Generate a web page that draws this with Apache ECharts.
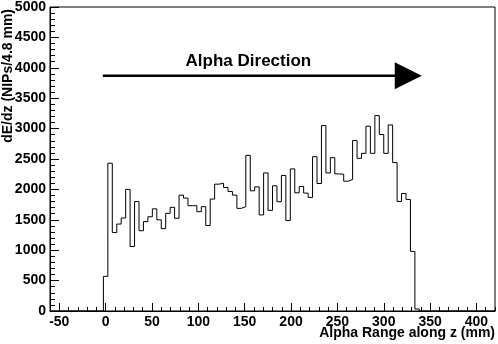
<!DOCTYPE html>
<html>
<head>
<meta charset="utf-8">
<script src="https://cdn.jsdelivr.net/npm/echarts@6/dist/echarts.min.js"></script>
<style>
  html, body { margin: 0; padding: 0; background: #fff; }
  #chart { width: 498px; height: 344px; }
</style>
</head>
<body>
<div id="chart"></div>
<script>
// histogram: 4.8 mm bins, first non-empty bin starts at -2.4 mm
var binLow = -2.4;
var binWidth = 4.8;
var counts = [
  570, 2430, 1290, 1430, 1530, 2000, 1060, 1800, 1320, 1470,
  1550, 1680, 1500, 1355, 1606, 1705, 1525, 1906, 1857, 1732,
  1732, 1634, 1716, 1405, 1841, 2086, 2102, 2031, 1966, 1906,
  1688, 1716, 2560, 1977, 2042, 1580, 2271, 1655, 2059, 1797,
  2228, 1487, 2337, 1944, 2048, 1939, 1868, 2538, 2097, 3050,
  2271, 2522, 2255, 2250, 2135, 2162, 2805, 2511, 2593, 3039,
  2593, 3214, 2903, 2593, 3060, 2440, 1802, 1933, 1835, 980,
  33
];
var xRange = [-60, 420];
var yRange = [0, 5000];
var xTickLabels = [-50, 0, 50, 100, 150, 200, 250, 300, 350, 400];

var arrowFrom = [-3, 3870];
var arrowTo = [341, 3870];
var arrowLabel = 'Alpha Direction';
var arrowLabelAt = [154, 4100];

var fontFamily = '"Liberation Sans", Arial, Helvetica, sans-serif';

// step outline points (left edge of each bin -> its count)
var steps = [[xRange[0], 0]];
for (var i = 0; i < counts.length; i++) {
  steps.push([binLow + i * binWidth, counts[i]]);
}
steps.push([binLow + counts.length * binWidth, 0]);
steps.push([xRange[1], 0]);

var minorX = [];
for (var v = xRange[0]; v <= xRange[1]; v += 10) minorX.push(v);

var chart = echarts.init(document.getElementById('chart'), null, { renderer: 'canvas' });

var option = {
  animation: false,
  backgroundColor: '#fff',
  textStyle: { fontFamily: fontFamily },
  grid: {
    left: 50, right: 3, top: 5, bottom: 33,
    show: true, borderColor: '#000', borderWidth: 1
  },
  xAxis: [{
    type: 'value',
    min: xRange[0], max: xRange[1],
    axisLine: { show: true, onZero: false, lineStyle: { color: '#000', width: 1 } },
    axisTick: { show: true, inside: true, length: 8, customValues: xTickLabels, lineStyle: { color: '#000' } },
    axisLabel: {
      customValues: xTickLabels, margin: 4,
      color: '#000', fontSize: 14, fontWeight: 'bold', fontFamily: fontFamily,
      formatter: function (v) { return String(v); }
    },
    splitLine: { show: false }
  }, {
    type: 'value',
    position: 'bottom',
    min: xRange[0], max: xRange[1],
    axisLine: { show: false, onZero: false },
    axisTick: { show: true, inside: true, length: 4, customValues: minorX, lineStyle: { color: '#000' } },
    axisLabel: { show: false },
    splitLine: { show: false }
  }],
  yAxis: [{
    type: 'value',
    min: yRange[0], max: yRange[1], interval: 500,
    axisLine: { show: true, onZero: false, lineStyle: { color: '#000', width: 1 } },
    axisTick: { show: true, inside: true, length: 9, lineStyle: { color: '#000' } },
    axisLabel: {
      margin: 4, color: '#000', fontSize: 14, fontWeight: 'bold', fontFamily: fontFamily,
      formatter: function (v) { return String(v); }
    },
    splitLine: { show: false }
  }, {
    type: 'value',
    position: 'left',
    min: yRange[0], max: yRange[1], interval: 100,
    axisLine: { show: false, onZero: false },
    axisTick: { show: true, inside: true, length: 5, lineStyle: { color: '#000' } },
    axisLabel: { show: false },
    splitLine: { show: false }
  }],
  series: [{
    type: 'line',
    step: 'end',
    xAxisIndex: 0,
    yAxisIndex: 0,
    symbol: 'none',
    lineStyle: { color: '#000', width: 1 },
    data: steps
  }]
};
chart.setOption(option);

// annotations, placed from data coordinates
var p0 = chart.convertToPixel({ xAxisIndex: 0, yAxisIndex: 0 }, arrowFrom);
var p1 = chart.convertToPixel({ xAxisIndex: 0, yAxisIndex: 0 }, arrowTo);
var pt = chart.convertToPixel({ xAxisIndex: 0, yAxisIndex: 0 }, arrowLabelAt);
var headLen = 27, headHalf = 13.5;

chart.setOption({
  graphic: [
    {
      type: 'line', silent: true,
      shape: { x1: p0[0], y1: p0[1], x2: p1[0] - headLen + 1, y2: p1[1] },
      style: { stroke: '#000', lineWidth: 2.5 }
    },
    {
      type: 'polygon', silent: true,
      shape: { points: [[p1[0] - headLen, p1[1] - headHalf], [p1[0], p1[1]], [p1[0] - headLen, p1[1] + headHalf]] },
      style: { fill: '#000' }
    },
    {
      type: 'text', silent: true,
      x: pt[0], y: pt[1],
      style: {
        text: arrowLabel, fill: '#000', font: 'bold 17px ' + fontFamily,
        textAlign: 'center', textVerticalAlign: 'middle'
      }
    },
    {
      type: 'text', silent: true,
      x: 495, y: 333,
      style: {
        text: 'Alpha Range along z (mm)', fill: '#000', font: 'bold 14px ' + fontFamily,
        textAlign: 'right', textVerticalAlign: 'middle'
      }
    },
    {
      type: 'text', silent: true,
      x: 8.5, y: 9, rotation: Math.PI / 2,
      style: {
        text: 'dE/dz (NIPs/4.8 mm)', fill: '#000', font: 'bold 14px ' + fontFamily,
        textAlign: 'right', textVerticalAlign: 'middle'
      }
    }
  ]
});
</script>
</body>
</html>
